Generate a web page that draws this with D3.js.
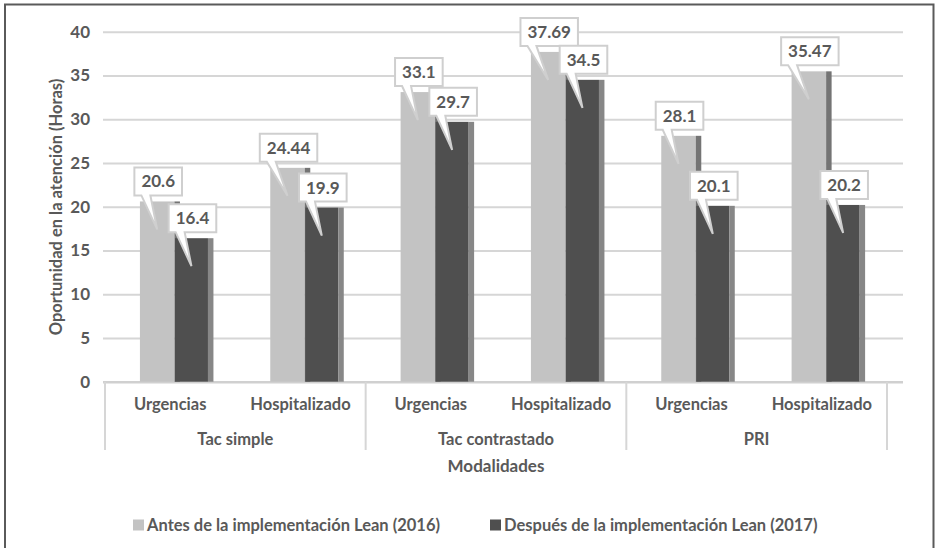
<!DOCTYPE html>
<html><head><meta charset="utf-8">
<script src="https://cdn.jsdelivr.net/npm/d3@7"></script>
<style>html,body{margin:0;padding:0;background:#fff}svg{display:block}text{font-family:Lato,"Open Sans",sans-serif;font-weight:700;fill:#595959}</style>
</head><body><svg id="c" width="936" height="548"></svg>
<script>
const groups = ["Tac simple", "Tac contrastado", "PRI"];
const subcats = ["Urgencias", "Hospitalizado", "Urgencias", "Hospitalizado", "Urgencias", "Hospitalizado"];
const antes = [20.6, 24.44, 33.1, 37.69, 28.1, 35.47];
const despues = [16.4, 19.9, 29.7, 34.5, 20.1, 20.2];
const yTicks = [0, 5, 10, 15, 20, 25, 30, 35, 40];
const seriesNames = ["Antes de la implementación Lean (2016)", "Después de la implementación Lean (2017)"];
const yTitle = "Oportunidad en la atención (Horas)";
const xTitle = "Modalidades";

const svg = d3.select("#c");
svg.append("rect").attr("width", 936).attr("height", 548).attr("fill", "#fff");
svg.append("path").attr("d", "M5,548V4.5H933.5V548").attr("fill", "none").attr("stroke", "#5a5a5a").attr("stroke-width", 2);

const y = d3.scaleLinear().domain([0, 40]).range([381.7, 31.7]);
const idx = d3.range(subcats.length);
const x = d3.scaleBand().domain(idx).range([105, 887]);
const bw = x.bandwidth();
const gx = d3.scaleBand().domain(groups).range([105, 887]);

// gridlines + tick labels
const ax = svg.append("g").attr("transform", "translate(103,0)")
  .call(d3.axisLeft(y).tickValues(yTicks).tickSize(-800).tickPadding(13));
ax.select(".domain").remove();
ax.selectAll(".tick line").attr("stroke", "#d6d6d6").attr("stroke-width", 2);
ax.selectAll(".tick text").attr("font-size", 17).style("font-family", "Lato").attr("fill", "#595959");
ax.selectAll(".tick").filter(d => d === 0).select("line").attr("stroke", "#d0d0d0").attr("stroke-width", 2.5);

// bars
const cfg = {lightX: 0.268, lightW: 0.265, darkX: 0.537, darkW: 0.253, side: 0.042};
const bars = svg.append("g");
idx.forEach(i => {
  const b = x(i);
  const la = b + cfg.lightX * bw, lw = cfg.lightW * bw;
  const da = b + cfg.darkX * bw, dw = cfg.darkW * bw, s = cfg.side * bw;
  bars.append("rect").attr("x", la).attr("y", y(antes[i])).attr("width", lw).attr("height", y(0) - y(antes[i])).attr("fill", "#c3c3c3");
  bars.append("rect").attr("x", la + lw).attr("y", y(antes[i])).attr("width", s).attr("height", y(0) - y(antes[i])).attr("fill", "#747474");
  bars.append("rect").attr("x", da).attr("y", y(despues[i])).attr("width", dw).attr("height", y(0) - y(despues[i])).attr("fill", "#4f4f4f");
  bars.append("rect").attr("x", da + dw).attr("y", y(despues[i])).attr("width", s).attr("height", y(0) - y(despues[i])).attr("fill", "#878787");
});

// category axis table
const cat = svg.append("g");
groups.forEach((g, k) => {
  cat.append("line").attr("x1", gx(g)).attr("x2", gx(g)).attr("y1", 382).attr("y2", 450).attr("stroke", "#d6d6d6").attr("stroke-width", 2);
  cat.append("text").attr("x", gx(g) + gx.bandwidth() / 2).attr("y", 445).attr("text-anchor", "middle").attr("font-size", 16.5).text(g);
});
cat.append("line").attr("x1", 887).attr("x2", 887).attr("y1", 382).attr("y2", 450).attr("stroke", "#d6d6d6").attr("stroke-width", 2);
idx.forEach(i => {
  cat.append("text").attr("x", x(i) + bw / 2).attr("y", 410).attr("text-anchor", "middle").attr("font-size", 16.5).text(subcats[i]);
});
svg.append("text").attr("x", 496).attr("y", 471.5).attr("text-anchor", "middle").attr("font-size", 17).text(xTitle);
svg.append("text").attr("transform", "translate(61.5,207) rotate(-90)").attr("text-anchor", "middle").attr("font-size", 16.5).text(yTitle);

// callouts
function callout(cx, val) {
  const top = y(val);
  const g = svg.append("g");
  const t = g.append("text").attr("font-size", 17).attr("text-anchor", "middle").text(val);
  const tw = t.node().getComputedTextLength();
  const w = tw + 14, h = 28;
  const l = cx - w / 2, r = cx + w / 2, bt = top - 6, tp = bt - h;
  const tipX = cx - 1, tipY = top + 28;
  g.insert("path", "text").attr("d", `M${l},${tp}H${r}V${bt}H${l + 16}L${tipX},${tipY}L${l + 7},${bt}H${l}Z`)
    .attr("fill", "#fff").attr("stroke", "#cfcfcf").attr("stroke-width", 2).attr("stroke-linejoin", "miter");
  t.attr("x", cx).attr("y", tp + h / 2 + 6);
}
idx.forEach(i => {
  const b = x(i);
  callout(b + cfg.lightX * bw + cfg.lightW * bw / 2 + 1, antes[i]);
  callout(b + cfg.darkX * bw + cfg.darkW * bw / 2 + 1, despues[i]);
});

// legend
const legX = [133, 490];
const legCol = ["#c3c3c3", "#4f4f4f"];
seriesNames.forEach((n, k) => {
  svg.append("rect").attr("x", legX[k]).attr("y", 519.5).attr("width", 11).attr("height", 11).attr("fill", legCol[k]);
  svg.append("text").attr("x", legX[k] + 14).attr("y", 530.5).attr("font-size", 16.5).text(n);
});
</script></body></html>
